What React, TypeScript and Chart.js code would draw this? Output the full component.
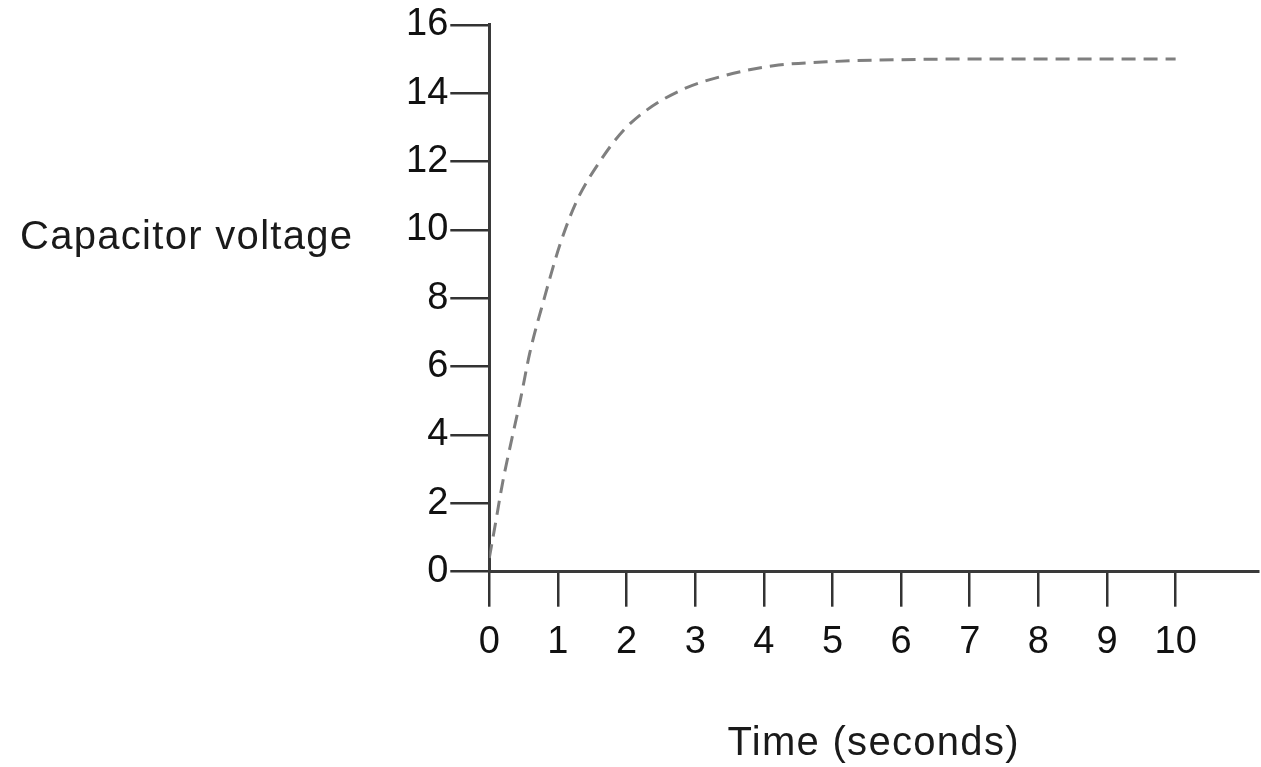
import React, { useEffect, useRef } from 'react';
import { Chart, registerables } from 'chart.js';

Chart.register(...registerables);

// ---- Data ----
const timeSeconds = [0, 0.08, 0.2, 0.33, 0.45, 0.59, 0.79, 1.03, 1.27, 1.61, 1.95, 2.29, 2.83, 3.46, 4.14, 5.06, 6, 7, 8, 9, 10];
const capacitorVoltage = [0.4, 1.3, 2.67, 3.9, 5.0, 6.4, 7.92, 9.57, 10.83, 12.0, 12.9, 13.5, 14.12, 14.53, 14.8, 14.93, 14.98, 15, 15, 15, 15];
const xTickValues = [0, 1, 2, 3, 4, 5, 6, 7, 8, 9, 10];
const yTickValues = [0, 2, 4, 6, 8, 10, 12, 14, 16];
const xAxisTitle = 'Time (seconds)';
const yAxisTitle = 'Capacitor voltage';

const FONT = "'Liberation Sans', Arial, Helvetica, sans-serif";

const titlesPlugin = {
  id: 'axisTitles',
  afterDraw(chart: any) {
    const { ctx, chartArea } = chart;
    ctx.save();
    ctx.fillStyle = '#1a1a1a';
    ctx.font = `40px ${FONT}`;
    try {
      (ctx as any).letterSpacing = '1.3px';
    } catch (e) {
      /* ignore */
    }
    ctx.textBaseline = 'middle';
    ctx.textAlign = 'center';
    ctx.fillText(xAxisTitle, (chartArea.left + chartArea.right) / 2, chartArea.bottom + 172);
    ctx.textAlign = 'left';
    ctx.fillText(yAxisTitle, 20, chartArea.top + 213);
    ctx.restore();
  },
};

export default function App() {
  const canvasRef = useRef<HTMLCanvasElement | null>(null);

  useEffect(() => {
    if (!canvasRef.current) return;
    const points = timeSeconds.map((t, i) => ({ x: t, y: capacitorVoltage[i] }));
    const chart = new Chart(canvasRef.current, {
      type: 'line',
      data: {
        datasets: [
          {
            data: points,
            borderColor: '#7f7f7f',
            borderWidth: 3,
            borderDash: [14, 8],
            pointRadius: 0,
            fill: false,
            cubicInterpolationMode: 'monotone',
          },
        ],
      },
      options: {
        animation: false,
        responsive: true,
        maintainAspectRatio: false,
        devicePixelRatio: 1,
        layout: { padding: { left: 0, top: 22, right: 3, bottom: 0 } },
        plugins: {
          legend: { display: false },
          tooltip: { enabled: false },
          title: { display: false },
        },
        scales: {
          x: {
            type: 'linear',
            min: 0,
            max: 11.2,
            afterBuildTicks: (scale: any) => {
              scale.ticks = xTickValues.map((v) => ({ value: v }));
            },
            afterFit: (scale: any) => {
              scale.height = 195.3;
            },
            grid: {
              display: true,
              drawOnChartArea: false,
              drawTicks: true,
              tickLength: 35,
              color: '#333',
              lineWidth: 2.5,
            },
            border: { display: true, color: '#3a3a3a', width: 3 },
            ticks: {
              color: '#111',
              font: { size: 38, family: FONT },
              padding: 13,
              maxRotation: 0,
              autoSkip: false,
            },
          },
          y: {
            type: 'linear',
            min: 0,
            max: 16,
            afterBuildTicks: (scale: any) => {
              scale.ticks = yTickValues.map((v) => ({ value: v }));
            },
            afterFit: (scale: any) => {
              scale.width = 489.3;
            },
            grid: {
              display: true,
              drawOnChartArea: false,
              drawTicks: true,
              tickLength: 39,
              color: '#333',
              lineWidth: 2.5,
            },
            border: { display: true, color: '#3a3a3a', width: 3 },
            ticks: {
              color: '#111',
              font: { size: 38, family: FONT },
              padding: 2,
              autoSkip: false,
            },
          },
        },
      },
      plugins: [titlesPlugin],
    } as any);
    return () => chart.destroy();
  }, []);

  return (
    <div style={{ position: 'fixed', left: 0, top: 0, width: 1261, height: 767, background: '#fff' }}>
      <canvas ref={canvasRef} />
    </div>
  );
}
